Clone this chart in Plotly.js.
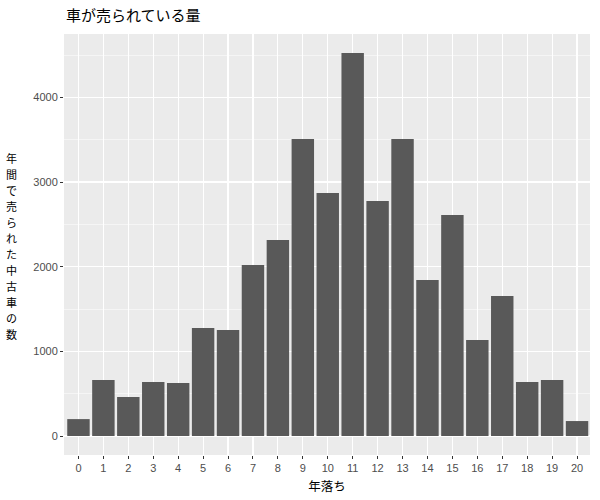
<!DOCTYPE html>
<html>
<head>
<meta charset="utf-8">
<script src="https://cdn.plot.ly/plotly-3.0.1.min.js"></script>
<style>html,body{margin:0;padding:0;background:#fff;}#chart{width:600px;height:500px;}</style>
</head>
<body>
<div id="chart"></div>
<script>
const ages = [0,1,2,3,4,5,6,7,8,9,10,11,12,13,14,15,16,17,18,19,20];
const counts = [200,661,461,638,626,1276,1252,2020,2315,3508,2870,4524,2776,3508,1843,2610,1134,1654,638,661,177];
const titleText = "車が売られている量";
const xTitle = "年落ち";
const yTitle = "年間で売られた中古車の数";

const cjk = '"Noto Sans CJK JP", "Noto Sans", sans-serif';
const num = '"Liberation Sans", Arial, sans-serif';

const trace = {
  type: 'bar',
  x: ages,
  y: counts,
  width: 0.9,
  marker: {color: '#595959', line: {width: 0}},
  hoverinfo: 'x+y'
};

// vertical stacked y title: one upright character per line
const plotTop = 34, plotH = 421, plotL = 64, plotW = 526;
const chars = Array.from(yTitle);
const firstY = 158, stepY = 16, centerX = 11.5;
const yTitleAnnotations = chars.map((c, i) => ({
  text: c,
  xref: 'paper', yref: 'paper',
  x: (centerX - plotL) / plotW,
  y: 1 - (firstY + i * stepY - plotTop) / plotH,
  xanchor: 'center', yanchor: 'middle',
  showarrow: false,
  font: {family: cjk, size: 11, color: '#000000'}
}));

const layout = {
  width: 600, height: 500,
  margin: {l: 64, r: 10, t: 34, b: 45, pad: 0},
  paper_bgcolor: '#ffffff',
  plot_bgcolor: '#EBEBEB',
  showlegend: false,
  bargap: 0.1,
  title: {
    text: titleText,
    font: {family: cjk, size: 15, color: '#000000'},
    x: 66/600, xref: 'container', xanchor: 'left',
    y: 1 - 16/500, yref: 'container', yanchor: 'middle'
  },
  xaxis: {
    range: [-0.58, 20.52],
    tickmode: 'array',
    tickvals: ages,
    ticktext: ages.map(String),
    ticks: 'outside', ticklen: 3, tickwidth: 1, tickcolor: '#333333',
    tickfont: {family: num, size: 11, color: '#4D4D4D'},
    showgrid: true, gridcolor: '#ffffff', gridwidth: 1.1,
    zeroline: false, showline: false,
    title: {text: xTitle, font: {family: cjk, size: 12.5, color: '#000000'}, standoff: 9}
  },
  yaxis: {
    range: [-224, 4748],
    tick0: 0, dtick: 1000,
    ticks: 'outside', ticklen: 3, tickwidth: 1, tickcolor: '#333333',
    tickfont: {family: num, size: 11, color: '#4D4D4D'},
    showgrid: true, gridcolor: '#ffffff', gridwidth: 1.1,
    minor: {dtick: 500, tick0: 0, showgrid: true, gridcolor: '#ffffff', gridwidth: 0.5, ticks: ''},
    zeroline: false, showline: false,
    title: {text: ''}
  },
  annotations: yTitleAnnotations
};

Plotly.newPlot('chart', [trace], layout, {displayModeBar: false, staticPlot: true});
</script>
</body>
</html>
